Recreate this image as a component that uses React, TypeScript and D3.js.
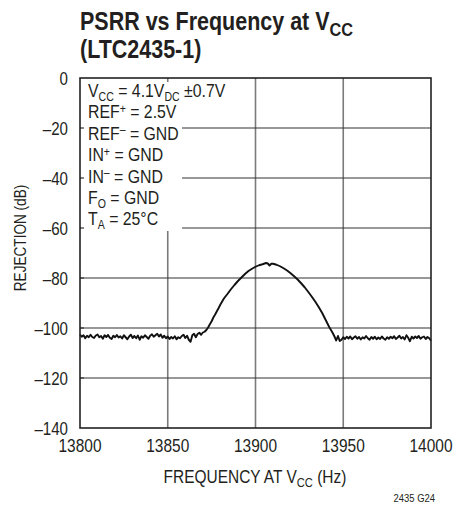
import React from "react";
import * as d3 from "d3";

// ---- data ----
const xTicks = [13800, 13850, 13900, 13950, 14000];
const yTicks = [0, -20, -40, -60, -80, -100, -120, -140];

const noiseLeftStart = 13800;
const noiseLeft = [
  -102.6, -103.5, -102.9, -104.1, -103.1, -103.7, -102.7, -103.6, -104.0, -103.0,
  -102.6, -103.7, -103.2, -104.3, -102.9, -103.6, -102.8, -103.9, -104.4, -103.1,
  -103.7, -102.8, -103.8, -103.3, -104.2, -102.9, -103.7, -104.5, -103.4, -102.7,
  -104.0, -103.2, -104.1, -103.0, -104.7, -103.3, -103.9, -102.9, -103.6, -104.3,
  -103.1, -102.5, -103.5, -102.9, -102.3, -103.4, -102.6, -103.9, -103.1, -104.1,
  -103.4, -104.4, -103.6, -104.2, -103.3, -104.5, -103.7, -104.1, -103.2, -102.7,
  -104.0, -103.1, -104.7, -105.5, -102.9, -102.3, -103.7, -102.4, -101.9, -102.7,
  -101.8,
];

const peakFreq = [
  13871, 13872, 13873, 13874, 13875, 13876, 13877, 13878, 13879, 13880,
  13882, 13884, 13886, 13888, 13890, 13892, 13894, 13896, 13898, 13900,
  13902, 13904, 13906, 13907, 13908, 13909, 13910, 13912, 13914, 13916,
  13918, 13920, 13922, 13924, 13926, 13928, 13930, 13932, 13934, 13936,
  13938, 13940, 13942, 13943, 13944, 13945, 13946, 13947, 13948,
];
const peakDb = [
  -101.5, -100.8, -99.8, -98.5, -97.3, -95.8, -94.6, -93.3, -92.0, -90.6,
  -88.2, -86.4, -84.5, -82.8, -81.2, -79.8, -78.4, -77.2, -76.3, -75.5,
  -74.9, -74.5, -74.0, -74.2, -75.0, -74.3, -74.3, -74.7, -75.3, -76.1,
  -77.0, -78.1, -79.3, -80.6, -82.1, -83.7, -85.5, -87.4, -89.4, -91.6,
  -94.0, -96.8, -99.6, -100.8, -102.0, -103.4, -105.0, -103.2, -105.2,
];

const noiseRightStart = 13949;
const noiseRight = [
  -104.7, -103.7, -104.4, -103.5, -104.2, -103.4, -104.5, -103.8, -103.3, -104.3,
  -103.6, -104.6, -103.7, -104.2, -103.2, -104.1, -104.7, -103.6, -104.3, -103.5,
  -104.5, -103.8, -104.4, -103.4, -104.2, -104.7, -103.7, -104.3, -103.5, -104.1,
  -103.3, -104.4, -103.8, -103.1, -104.2, -103.6, -104.6, -102.9, -103.9, -105.3,
  -103.5, -104.2, -103.4, -104.0, -103.2, -104.3, -103.7, -103.4, -104.4, -103.6,
  -104.1, -105.1,
];

const points: [number, number][] = [
  ...noiseLeft.map((v, i) => [noiseLeftStart + i, v] as [number, number]),
  ...peakFreq.map((f, i) => [f, peakDb[i]] as [number, number]),
  ...noiseRight.map((v, i) => [noiseRightStart + i, v] as [number, number]),
];

const FONT = "'Liberation Sans', Arial, sans-serif";
const INK = "#231f20";
const W = 472;
const H = 515;
const M = { left: 80, right: 431, top: 78, bottom: 428 };

function ST(props: {
  x: number;
  y: number;
  sx: number;
  size: number;
  anchor?: string;
  weight?: string;
  rotate?: number;
  children: React.ReactNode;
}) {
  const { x, y, sx, size, anchor = "start", weight = "normal", rotate = 0 } = props;
  return (
    <g transform={`translate(${x},${y}) rotate(${rotate}) scale(${sx},1)`}>
      <text x={0} y={0} fontSize={size} fontWeight={weight} textAnchor={anchor} fill={INK}>
        {props.children}
      </text>
    </g>
  );
}

export default function App() {
  const x = d3.scaleLinear().domain([13800, 14000]).range([M.left, M.right]);
  const y = d3.scaleLinear().domain([-140, 0]).range([M.bottom, M.top]);
  const line = d3
    .line<[number, number]>()
    .x((d) => x(d[0]))
    .y((d) => y(d[1]));

  const boxRight = 182;
  const boxBottom = 231;
  const legendX = 88;
  const legendY0 = 97;
  const lh = 21.4;
  const LS = 18;
  const LSX = 0.88;

  const sub = (t: string) => (
    <tspan fontSize={12} dy={3.5}>
      {t}
    </tspan>
  );
  const sup = (t: string, rest: string) => [
    <tspan key="a" fontSize={12} dy={-5.5}>
      {t}
    </tspan>,
    <tspan key="b" dy={5.5}>
      {rest}
    </tspan>,
  ];

  return (
    <svg
      width={W}
      height={H}
      style={{ position: "absolute", left: 0, top: 0, background: "#fff" }}
      fontFamily={FONT}
    >
      {/* title */}
      <ST x={80} y={30} sx={0.86} size={25} weight="bold">
        PSRR vs Frequency at V
        <tspan fontSize={19} dy={6}>
          CC
        </tspan>
      </ST>
      <ST x={80} y={58} sx={0.86} size={25} weight="bold">
        (LTC2435-1)
      </ST>

      {/* vertical gridlines */}
      {xTicks.slice(1, -1).map((t) => (
        <line key={"vx" + t} x1={x(t)} x2={x(t)} y1={M.top} y2={M.bottom} stroke="#7a7a7a" strokeWidth={1.6} />
      ))}
      {/* horizontal gridlines */}
      {yTicks.slice(1, -1).map((t) => (
        <line key={"hy" + t} x1={M.left} x2={M.right} y1={y(t)} y2={y(t)} stroke="#333" strokeWidth={1.2} />
      ))}

      {/* legend box background */}
      <rect x={M.left + 1} y={M.top + 1} width={boxRight - M.left - 1} height={boxBottom - M.top - 1} fill="#fff" />
      {yTicks.slice(1, -1).map((t) => (
        <line key={"tk" + t} x1={M.left} x2={M.left + 4} y1={y(t)} y2={y(t)} stroke="#333" strokeWidth={1.2} />
      ))}
      <line x1={x(13850)} x2={x(13850)} y1={M.top} y2={M.top + 4} stroke="#7a7a7a" strokeWidth={1.6} />

      {/* legend text */}
      <ST x={legendX} y={legendY0} sx={LSX} size={LS}>
        V{sub("CC")}
        <tspan dy={-3.5}> = 4.1V</tspan>
        {sub("DC")}
        <tspan dy={-3.5}> ±0.7V</tspan>
      </ST>
      <ST x={legendX} y={legendY0 + lh} sx={LSX} size={LS}>
        REF{sup("+", " = 2.5V")}
      </ST>
      <ST x={legendX} y={legendY0 + 2 * lh} sx={LSX} size={LS}>
        REF{sup("–", " = GND")}
      </ST>
      <ST x={legendX} y={legendY0 + 3 * lh} sx={LSX} size={LS}>
        IN{sup("+", " = GND")}
      </ST>
      <ST x={legendX} y={legendY0 + 4 * lh} sx={LSX} size={LS}>
        IN{sup("–", " = GND")}
      </ST>
      <ST x={legendX} y={legendY0 + 5 * lh} sx={LSX} size={LS}>
        F{sub("O")}
        <tspan dy={-3.5}> = GND</tspan>
      </ST>
      <ST x={legendX} y={legendY0 + 6 * lh} sx={LSX} size={LS}>
        T{sub("A")}
        <tspan dy={-3.5}> = 25°C</tspan>
      </ST>

      {/* data line */}
      <path d={line(points) ?? ""} fill="none" stroke="#111" strokeWidth={1.9} strokeLinejoin="round" />

      {/* frame */}
      <rect x={M.left} y={M.top} width={M.right - M.left} height={M.bottom - M.top} fill="none" stroke="#222" strokeWidth={1.6} />

      {/* y tick labels */}
      {yTicks.map((t) => (
        <ST key={"yl" + t} x={68} y={y(t) + 6.5} sx={0.84} size={18} anchor="end">
          {t === 0 ? "0" : "–" + Math.abs(t)}
        </ST>
      ))}
      {/* x tick labels */}
      {xTicks.map((t) => (
        <ST key={"xl" + t} x={x(t)} y={452} sx={0.86} size={18} anchor="middle">
          {String(t)}
        </ST>
      ))}

      {/* axis titles */}
      <ST x={255} y={483} sx={0.86} size={18} anchor="middle">
        FREQUENCY AT V
        <tspan fontSize={13} dy={4}>
          CC
        </tspan>
        <tspan dy={-4}> (Hz)</tspan>
      </ST>
      <ST x={26} y={238} sx={0.8} size={17} anchor="middle" rotate={-90}>
        REJECTION (dB)
      </ST>

      <ST x={435} y={502} sx={0.86} size={11} anchor="end">
        2435 G24
      </ST>
    </svg>
  );
}
